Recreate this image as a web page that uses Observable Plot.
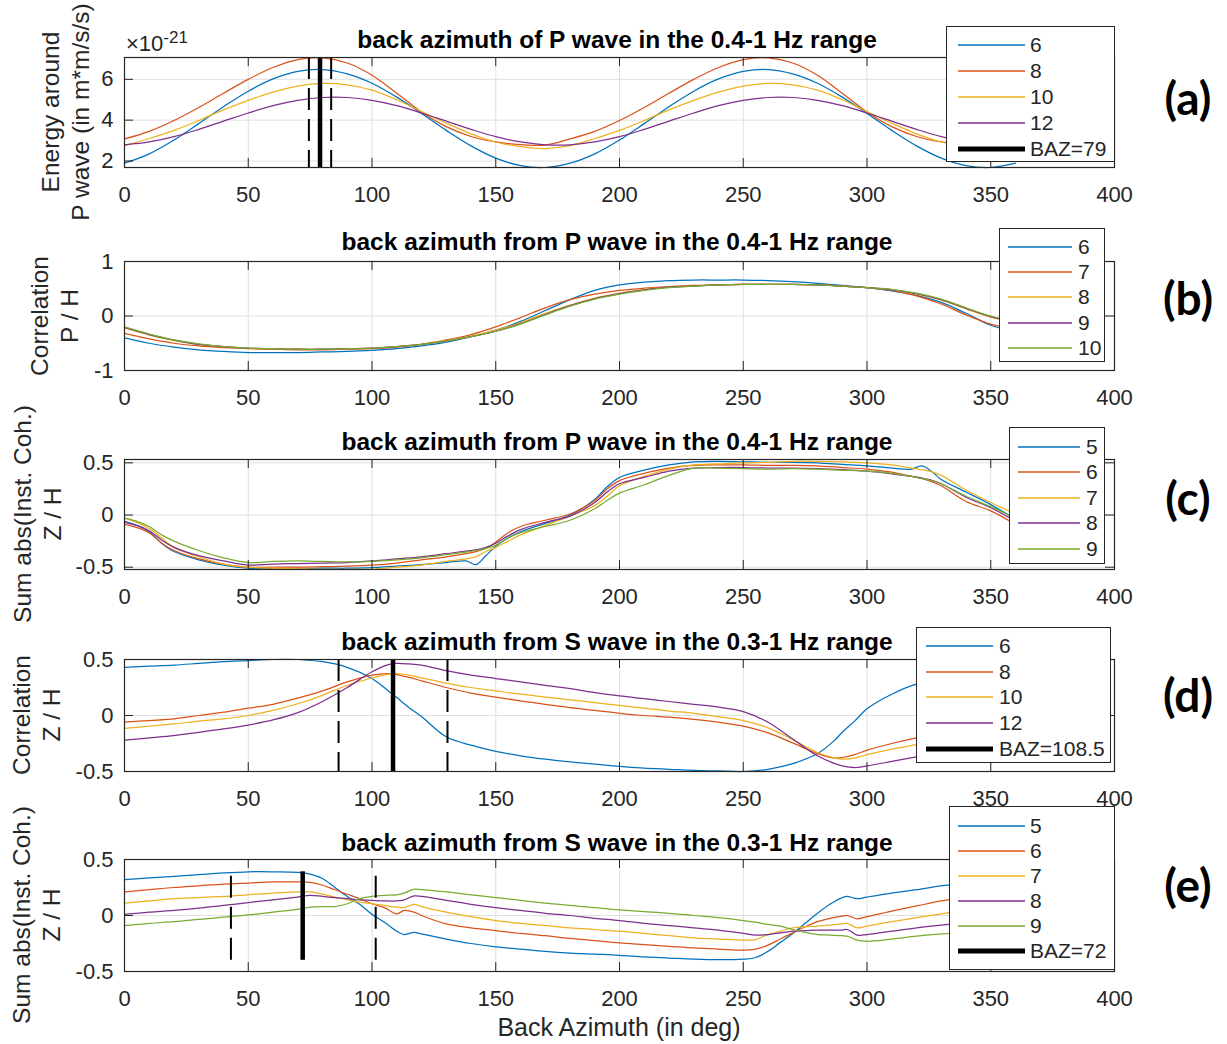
<!DOCTYPE html>
<html><head><meta charset="utf-8">
<script src="https://cdn.jsdelivr.net/npm/d3@7"></script>
<script src="https://cdn.jsdelivr.net/npm/@observablehq/plot@0.6"></script>
<style>
body{margin:0;background:#fff;}
#root{position:relative;width:1227px;height:1044px;overflow:hidden;font-family:"Liberation Sans",Arial,Helvetica,sans-serif;color:#262626;background:#fff;}
.abs{position:absolute;white-space:nowrap;}
.title{font-weight:bold;font-size:24.5px;transform:translate(-50%,-50%);color:#000;}
.ylab{font-size:24.5px;line-height:30px;text-align:center;transform:translate(-50%,-50%) rotate(-90deg);}
.letter{font-family:Lato,"Open Sans",sans-serif;font-weight:bold;font-size:46px;transform:translate(-50%,-50%);color:#000;}
.legend{background:#fff;border:1px solid #262626;box-sizing:border-box;font-size:21px;color:#262626;}
.legend .row{display:flex;align-items:center;}
</style></head><body><div id="root"></div>
<script>
// ---------- shared ----------
const xTicks = [0,50,100,150,200,250,300,350,400];
const colors = ["#0072BD","#D95319","#EDB120","#7E2F8E","#77AC30"];

// ---------- panel (a) ----------
const aX = [0,10,20,30,40,50,60,70,80,90,100,110,120,130,140,150,160,170,180,190,200,210,220,230,240,250,260,270,280,290,300,310,320,330,340,350,360];
const aS6 = [1.89,2.35,3.03,3.83,4.66,5.42,6.02,6.39,6.48,6.27,5.81,5.13,4.33,3.50,2.74,2.14,1.77,1.68,1.89,2.35,3.03,3.83,4.66,5.42,6.02,6.39,6.48,6.27,5.81,5.13,4.33,3.50,2.74,2.14,1.77,1.68,1.89];
const aS8 = [3.08,3.45,3.98,4.62,5.32,6.00,6.58,6.97,7.05,6.80,6.20,5.32,4.40,3.68,3.20,2.93,2.80,2.78,3.08,3.45,3.98,4.62,5.32,6.00,6.58,6.97,7.05,6.80,6.20,5.32,4.40,3.68,3.20,2.93,2.80,2.78,3.08];
const aS10 = [2.75,3.10,3.50,3.98,4.50,4.97,5.37,5.67,5.80,5.73,5.47,5.00,4.42,3.85,3.33,2.93,2.70,2.61,2.75,3.10,3.50,3.98,4.50,4.97,5.37,5.67,5.80,5.73,5.47,5.00,4.42,3.85,3.33,2.93,2.70,2.61,2.75];
const aS12 = [2.79,2.93,3.19,3.55,3.95,4.35,4.71,4.97,5.11,5.11,4.97,4.71,4.35,3.95,3.55,3.19,2.93,2.79,2.79,2.93,3.19,3.55,3.95,4.35,4.71,4.97,5.11,5.11,4.97,4.71,4.35,3.95,3.55,3.19,2.93,2.79,2.79];
const aLabels = ["6","8","10","12"];
const aYDomain = [1.68, 7.07];
const aYTicks = [2,4,6];
const aBaz = [79];
const aBazErr = [74.5, 83.5];
const aBazLabel = "BAZ=79";

// ---------- panel (b) ----------
const bX = aX;
const bS6 = [-0.40,-0.50,-0.57,-0.62,-0.65,-0.67,-0.67,-0.67,-0.66,-0.65,-0.63,-0.60,-0.55,-0.48,-0.38,-0.26,-0.10,0.10,0.30,0.47,0.57,0.62,0.65,0.66,0.66,0.66,0.65,0.63,0.60,0.56,0.52,0.46,0.38,0.25,0.05,-0.17,-0.30];
const bS7 = [-0.32,-0.42,-0.50,-0.55,-0.58,-0.60,-0.61,-0.62,-0.62,-0.61,-0.60,-0.57,-0.52,-0.44,-0.34,-0.20,-0.03,0.15,0.30,0.40,0.47,0.51,0.54,0.56,0.57,0.58,0.58,0.58,0.57,0.55,0.52,0.47,0.37,0.22,0.02,-0.15,-0.25];
const bS8 = [-0.22,-0.35,-0.45,-0.52,-0.56,-0.59,-0.60,-0.61,-0.61,-0.60,-0.59,-0.56,-0.52,-0.45,-0.37,-0.26,-0.12,0.05,0.20,0.33,0.42,0.49,0.53,0.55,0.57,0.58,0.58,0.58,0.57,0.55,0.52,0.48,0.40,0.29,0.13,-0.02,-0.12];
const bS9 = [-0.21,-0.34,-0.44,-0.52,-0.56,-0.59,-0.60,-0.61,-0.61,-0.60,-0.59,-0.56,-0.52,-0.46,-0.38,-0.28,-0.14,0.03,0.19,0.32,0.41,0.48,0.53,0.55,0.57,0.58,0.58,0.58,0.57,0.55,0.52,0.48,0.41,0.30,0.14,-0.01,-0.11];
const bS10 = [-0.20,-0.33,-0.44,-0.51,-0.56,-0.59,-0.60,-0.61,-0.61,-0.60,-0.59,-0.56,-0.52,-0.46,-0.38,-0.28,-0.15,0.02,0.18,0.31,0.40,0.47,0.52,0.55,0.57,0.58,0.58,0.58,0.57,0.55,0.52,0.49,0.42,0.31,0.15,0.00,-0.10];
const bLabels = ["6","7","8","9","10"];
const bYDomain = [-1, 1];
const bYTicks = [-1,0,1];

// ---------- panel (c) ----------
const cX = [0,5,10,15,20,30,40,50,60,70,80,90,100,110,120,130,138,142,146,150,155,160,170,180,190,195,200,210,220,230,240,250,260,270,280,290,300,310,318,322,326,330,340,350,360];
const cS5 = [-0.06,-0.10,-0.16,-0.27,-0.35,-0.43,-0.48,-0.51,-0.515,-0.515,-0.51,-0.51,-0.505,-0.49,-0.475,-0.455,-0.44,-0.475,-0.39,-0.30,-0.22,-0.16,-0.08,0.00,0.15,0.27,0.36,0.43,0.48,0.51,0.515,0.51,0.505,0.505,0.50,0.485,0.47,0.45,0.44,0.47,0.42,0.34,0.22,0.10,-0.04];
const cS6 = [-0.09,-0.12,-0.17,-0.27,-0.34,-0.42,-0.47,-0.50,-0.50,-0.50,-0.495,-0.49,-0.48,-0.46,-0.43,-0.40,-0.37,-0.35,-0.32,-0.26,-0.17,-0.11,-0.05,0.01,0.14,0.25,0.33,0.40,0.45,0.475,0.48,0.48,0.475,0.475,0.47,0.455,0.44,0.41,0.37,0.35,0.32,0.28,0.13,0.04,-0.09];
const cS7 = [-0.03,-0.07,-0.13,-0.22,-0.31,-0.40,-0.47,-0.50,-0.51,-0.515,-0.52,-0.52,-0.52,-0.50,-0.48,-0.445,-0.42,-0.40,-0.35,-0.31,-0.25,-0.19,-0.10,-0.01,0.09,0.18,0.28,0.37,0.44,0.48,0.49,0.50,0.505,0.515,0.515,0.51,0.50,0.48,0.45,0.435,0.415,0.38,0.24,0.12,0.01];
const cS8 = [-0.07,-0.10,-0.15,-0.24,-0.31,-0.39,-0.44,-0.48,-0.47,-0.465,-0.46,-0.455,-0.44,-0.42,-0.40,-0.37,-0.345,-0.335,-0.31,-0.27,-0.20,-0.14,-0.07,-0.01,0.12,0.22,0.30,0.36,0.42,0.45,0.455,0.455,0.45,0.45,0.445,0.435,0.42,0.395,0.37,0.355,0.335,0.30,0.17,0.07,-0.06];
const cS9 = [-0.03,-0.06,-0.11,-0.19,-0.25,-0.34,-0.41,-0.455,-0.445,-0.44,-0.445,-0.45,-0.445,-0.43,-0.41,-0.38,-0.355,-0.34,-0.32,-0.29,-0.22,-0.17,-0.11,-0.05,0.06,0.14,0.21,0.29,0.38,0.45,0.45,0.445,0.44,0.445,0.44,0.43,0.42,0.40,0.37,0.35,0.33,0.30,0.18,0.08,-0.03];
const cLabels = ["5","6","7","8","9"];
const cYDomain = [-0.522, 0.532];
const cYTicks = [-0.5,0,0.5];

// ---------- panel (d) ----------
const dX = [0,10,20,30,40,50,60,70,80,90,100,106,110,115,120,130,140,150,160,170,180,190,200,210,220,230,240,250,260,270,280,287,290,295,300,310,320,330,340,350,360];
const dS6 = [0.43,0.44,0.45,0.465,0.48,0.49,0.50,0.50,0.48,0.43,0.33,0.23,0.16,0.07,-0.01,-0.19,-0.265,-0.32,-0.36,-0.39,-0.415,-0.435,-0.455,-0.47,-0.48,-0.49,-0.495,-0.50,-0.48,-0.43,-0.34,-0.22,-0.15,-0.05,0.06,0.19,0.28,0.32,0.34,0.35,0.35];
const dS8 = [-0.06,-0.045,-0.03,0.00,0.03,0.065,0.10,0.155,0.22,0.30,0.36,0.375,0.365,0.34,0.31,0.25,0.20,0.165,0.13,0.10,0.07,0.045,0.02,0.00,-0.015,-0.035,-0.06,-0.095,-0.155,-0.245,-0.34,-0.38,-0.375,-0.35,-0.31,-0.25,-0.20,-0.16,-0.13,-0.10,-0.08];
const dS10 = [-0.115,-0.095,-0.075,-0.05,-0.03,0.00,0.045,0.105,0.18,0.27,0.335,0.365,0.375,0.36,0.335,0.29,0.25,0.22,0.19,0.165,0.14,0.115,0.09,0.065,0.04,0.02,-0.01,-0.045,-0.11,-0.215,-0.33,-0.38,-0.39,-0.38,-0.35,-0.30,-0.26,-0.22,-0.19,-0.16,-0.13];
const dS12 = [-0.22,-0.20,-0.18,-0.15,-0.12,-0.085,-0.04,0.025,0.125,0.25,0.39,0.45,0.465,0.46,0.45,0.40,0.36,0.33,0.30,0.27,0.24,0.205,0.175,0.15,0.125,0.10,0.075,0.035,-0.06,-0.21,-0.36,-0.43,-0.45,-0.465,-0.45,-0.41,-0.37,-0.33,-0.30,-0.27,-0.24];
const dLabels = ["6","8","10","12"];
const dYDomain = [-0.5, 0.5];
const dYTicks = [-0.5,0,0.5];
const dBaz = [108.5];
const dBazErr = [86.5, 130.5];
const dBazLabel = "BAZ=108.5";

// ---------- panel (e) ----------
const eX = [0,10,20,30,40,50,60,70,75,80,85,90,95,100,105,110,113,117,120,130,140,150,160,170,180,190,200,210,220,230,240,250,255,260,265,270,275,280,285,290,292,296,300,310,320,330,340,350,360];
const eS5 = [0.32,0.335,0.35,0.365,0.38,0.39,0.39,0.385,0.37,0.33,0.25,0.17,0.10,0.01,-0.06,-0.14,-0.17,-0.15,-0.165,-0.21,-0.25,-0.28,-0.30,-0.32,-0.335,-0.345,-0.355,-0.37,-0.38,-0.39,-0.395,-0.39,-0.375,-0.32,-0.24,-0.16,-0.07,0.02,0.10,0.16,0.17,0.15,0.165,0.20,0.23,0.265,0.285,0.30,0.31];
const eS6 = [0.21,0.23,0.25,0.265,0.28,0.29,0.30,0.30,0.295,0.27,0.23,0.19,0.15,0.105,0.07,0.015,0.045,0.03,0.00,-0.075,-0.11,-0.135,-0.16,-0.18,-0.205,-0.225,-0.245,-0.26,-0.275,-0.29,-0.30,-0.31,-0.30,-0.265,-0.21,-0.155,-0.10,-0.055,-0.025,-0.005,0.00,-0.03,-0.01,0.04,0.085,0.13,0.16,0.185,0.20];
const eS7 = [0.11,0.13,0.15,0.16,0.17,0.185,0.20,0.21,0.21,0.19,0.165,0.14,0.12,0.105,0.09,0.075,0.07,0.10,0.08,0.03,-0.01,-0.045,-0.07,-0.09,-0.11,-0.125,-0.14,-0.16,-0.18,-0.20,-0.21,-0.22,-0.215,-0.17,-0.14,-0.11,-0.10,-0.095,-0.085,-0.075,-0.07,-0.11,-0.095,-0.055,-0.02,0.015,0.045,0.065,0.08];
const eS8 = [0.01,0.03,0.045,0.065,0.09,0.115,0.14,0.165,0.18,0.17,0.16,0.15,0.14,0.135,0.13,0.13,0.14,0.175,0.17,0.135,0.10,0.07,0.045,0.02,0.00,-0.025,-0.045,-0.07,-0.09,-0.11,-0.13,-0.16,-0.175,-0.17,-0.155,-0.14,-0.135,-0.13,-0.13,-0.13,-0.125,-0.175,-0.17,-0.14,-0.11,-0.085,-0.065,-0.05,-0.035];
const eS9 = [-0.09,-0.07,-0.055,-0.035,-0.015,0.005,0.03,0.055,0.075,0.08,0.08,0.105,0.15,0.17,0.18,0.185,0.20,0.235,0.23,0.21,0.185,0.16,0.135,0.11,0.09,0.07,0.05,0.035,0.02,0.00,-0.02,-0.045,-0.06,-0.08,-0.095,-0.125,-0.15,-0.17,-0.175,-0.18,-0.185,-0.22,-0.23,-0.21,-0.185,-0.165,-0.15,-0.13,-0.11];
const eLabels = ["5","6","7","8","9"];
const eYDomain = [-0.5, 0.5];
const eYTicks = [-0.5,0,0.5];
const eBaz = [72];
const eBazErr = [43, 101.5];
const eBazSpan = [-0.40, 0.39];
const eBazLabel = "BAZ=72";

// ---------- titles / labels ----------
const titles = ["back azimuth of P wave in the 0.4-1 Hz range","back azimuth from P wave in the 0.4-1 Hz range","back azimuth from P wave in the 0.4-1 Hz range","back azimuth from S wave in the 0.3-1 Hz range","back azimuth from S wave in the 0.3-1 Hz range"];
const yLabels = [["Energy around","P wave (in m*m/s/s)"],["Correlation","P / H"],["Sum abs(Inst. Coh.)","Z / H"],["Correlation","Z / H"],["Sum abs(Inst. Coh.)","Z / H"]];
const panelLetters = ["(a)","(b)","(c)","(d)","(e)"];
const xLabel = "Back Azimuth (in deg)";

// ---------- layout ----------
const root = document.getElementById("root");
const ML = 124, MR = 113, W = 1227, MT = 5, MB = 45;

function addPanel(p){
  const innerW = W - ML - MR, innerH = p.boxH;
  const grid = "#e0e0e0", ink = "#262626";
  const inner = xTicks.slice(1, -1);
  const marks = [
    Plot.ruleX(inner, {x: d => d, stroke: grid, strokeWidth: 1}),
    Plot.ruleY(p.yTicks, {y: d => d, stroke: grid, strokeWidth: 1})
  ];
  p.series.forEach((vals, i) => {
    const data = p.x.map((xv, j) => ({x: xv, y: vals[j]}));
    marks.push(Plot.line(data, {x: "x", y: "y", stroke: p.colors[i], strokeWidth: 1.25, curve: "catmull-rom"}));
  });
  if (p.baz) {
    const span = p.bazSpan ? {y1: p.bazSpan[0], y2: p.bazSpan[1]} : {};
    marks.push(Plot.ruleX(p.bazErr, {x: d => d, ...span, stroke: "#000", strokeWidth: 2, strokeDasharray: "22,9"}));
    marks.push(Plot.ruleX(p.baz, {x: d => d, ...span, stroke: "#000", strokeWidth: 4.5}));
  }
  marks.push(
    Plot.tickX(inner, {x: d => d, stroke: ink, insetTop: innerH - 9}),
    Plot.tickX(inner, {x: d => d, stroke: ink, insetBottom: innerH - 9}),
    Plot.tickY(p.yTicks, {y: d => d, stroke: ink, insetRight: innerW - 9}),
    Plot.tickY(p.yTicks, {y: d => d, stroke: ink, insetLeft: innerW - 9}),
    Plot.frame({stroke: ink, strokeWidth: 1.2})
  );
  const svg = Plot.plot({
    width: W, height: innerH + MT + MB,
    marginLeft: ML, marginRight: MR, marginTop: MT, marginBottom: MB,
    x: {domain: [0, 400], ticks: xTicks, tickSize: 0, tickPadding: 19, label: null, tickFormat: d => String(d)},
    y: {domain: p.yDomain, ticks: p.yTicks, tickSize: 0, tickPadding: 11, label: null, tickFormat: d => String(d)},
    style: {fontFamily: "'Liberation Sans', Arial, sans-serif", fontSize: "22px", color: ink, background: "transparent", overflow: "visible"},
    marks
  });
  svg.style.position = "absolute";
  svg.style.left = "0px";
  svg.style.top = (p.boxTop - MT) + "px";
  root.appendChild(svg);
}

function addText(cls, text, x, y, extra){
  const d = document.createElement("div");
  d.className = "abs " + cls;
  d.style.left = x + "px"; d.style.top = y + "px";
  d.innerHTML = text;
  if (extra) Object.assign(d.style, extra);
  root.appendChild(d);
  return d;
}

function addLegend(L){
  const d = document.createElement("div");
  d.className = "abs legend";
  Object.assign(d.style, {left: L.left + "px", top: L.top + "px", width: L.w + "px", height: L.h + "px", paddingTop: L.pad + "px"});
  L.items.forEach(it => {
    const row = document.createElement("div");
    row.className = "row";
    row.style.height = L.rowH + "px";
    row.innerHTML = `<svg width="${L.lineX + L.lineW}" height="10" style="flex:none"><line x1="${L.lineX}" x2="${L.lineX + L.lineW}" y1="5" y2="5" stroke="${it.color}" stroke-width="${it.sw}"/></svg><span style="margin-left:${L.gap}px">${it.label}</span>`;
    d.appendChild(row);
  });
  root.appendChild(d);
}

const panels = [
  {boxTop: 57, boxH: 110, x: aX, series: [aS6, aS8, aS10, aS12], colors: colors.slice(0, 4), yDomain: aYDomain, yTicks: aYTicks, baz: aBaz, bazErr: aBazErr},
  {boxTop: 261, boxH: 109, x: bX, series: [bS6, bS7, bS8, bS9, bS10], colors: colors, yDomain: bYDomain, yTicks: bYTicks},
  {boxTop: 459, boxH: 110, x: cX, series: [cS5, cS6, cS7, cS8, cS9], colors: colors, yDomain: cYDomain, yTicks: cYTicks},
  {boxTop: 659, boxH: 112, x: dX, series: [dS6, dS8, dS10, dS12], colors: colors.slice(0, 4), yDomain: dYDomain, yTicks: dYTicks, baz: dBaz, bazErr: dBazErr},
  {boxTop: 859, boxH: 112, x: eX, series: [eS5, eS6, eS7, eS8, eS9], colors: colors, yDomain: eYDomain, yTicks: eYTicks, baz: eBaz, bazErr: eBazErr, bazSpan: eBazSpan}
];
panels.forEach(addPanel);

// titles, y labels, letters
const titleY = [40, 242, 442, 642, 843];
const ylabX = [66, 55, 38, 37, 37];
const letterY = [97, 297, 497, 694, 884];
panels.forEach((p, i) => {
  addText("title", titles[i], 617, titleY[i]);
  addText("ylab", yLabels[i].join("<br>"), ylabX[i], p.boxTop + p.boxH / 2);
  addText("letter", panelLetters[i], 1188, letterY[i]);
});
addText("", xLabel, 619, 1027, {fontSize: "25px", transform: "translate(-50%,-50%)"});
addText("", "×10<sup style='font-size:17px;vertical-align:8px'>-21</sup>", 126, 28, {fontSize: "22px"});

// legends
const mk = (labels, extra) => labels.map((l, i) => ({label: l, color: colors[i], sw: 1.5})).concat(extra ? [{label: extra, color: "#000", sw: 5}] : []);
addLegend({left: 946, top: 26, w: 169, h: 136, pad: 5, rowH: 26, lineX: 11, lineW: 67, gap: 5, items: mk(aLabels, aBazLabel)});
addLegend({left: 999, top: 228, w: 106, h: 134, pad: 5, rowH: 25.3, lineX: 8, lineW: 64, gap: 6, items: mk(bLabels)});
addLegend({left: 1009, top: 427, w: 96, h: 137, pad: 6, rowH: 25.5, lineX: 8, lineW: 62, gap: 6, items: mk(cLabels)});
addLegend({left: 916, top: 627, w: 195, h: 136, pad: 5, rowH: 25.7, lineX: 9, lineW: 67, gap: 6, items: mk(dLabels, dBazLabel)});
addLegend({left: 949, top: 806, w: 166, h: 164, pad: 6, rowH: 25, lineX: 8, lineW: 67, gap: 5, items: mk(eLabels, eBazLabel)});
</script></body></html>
